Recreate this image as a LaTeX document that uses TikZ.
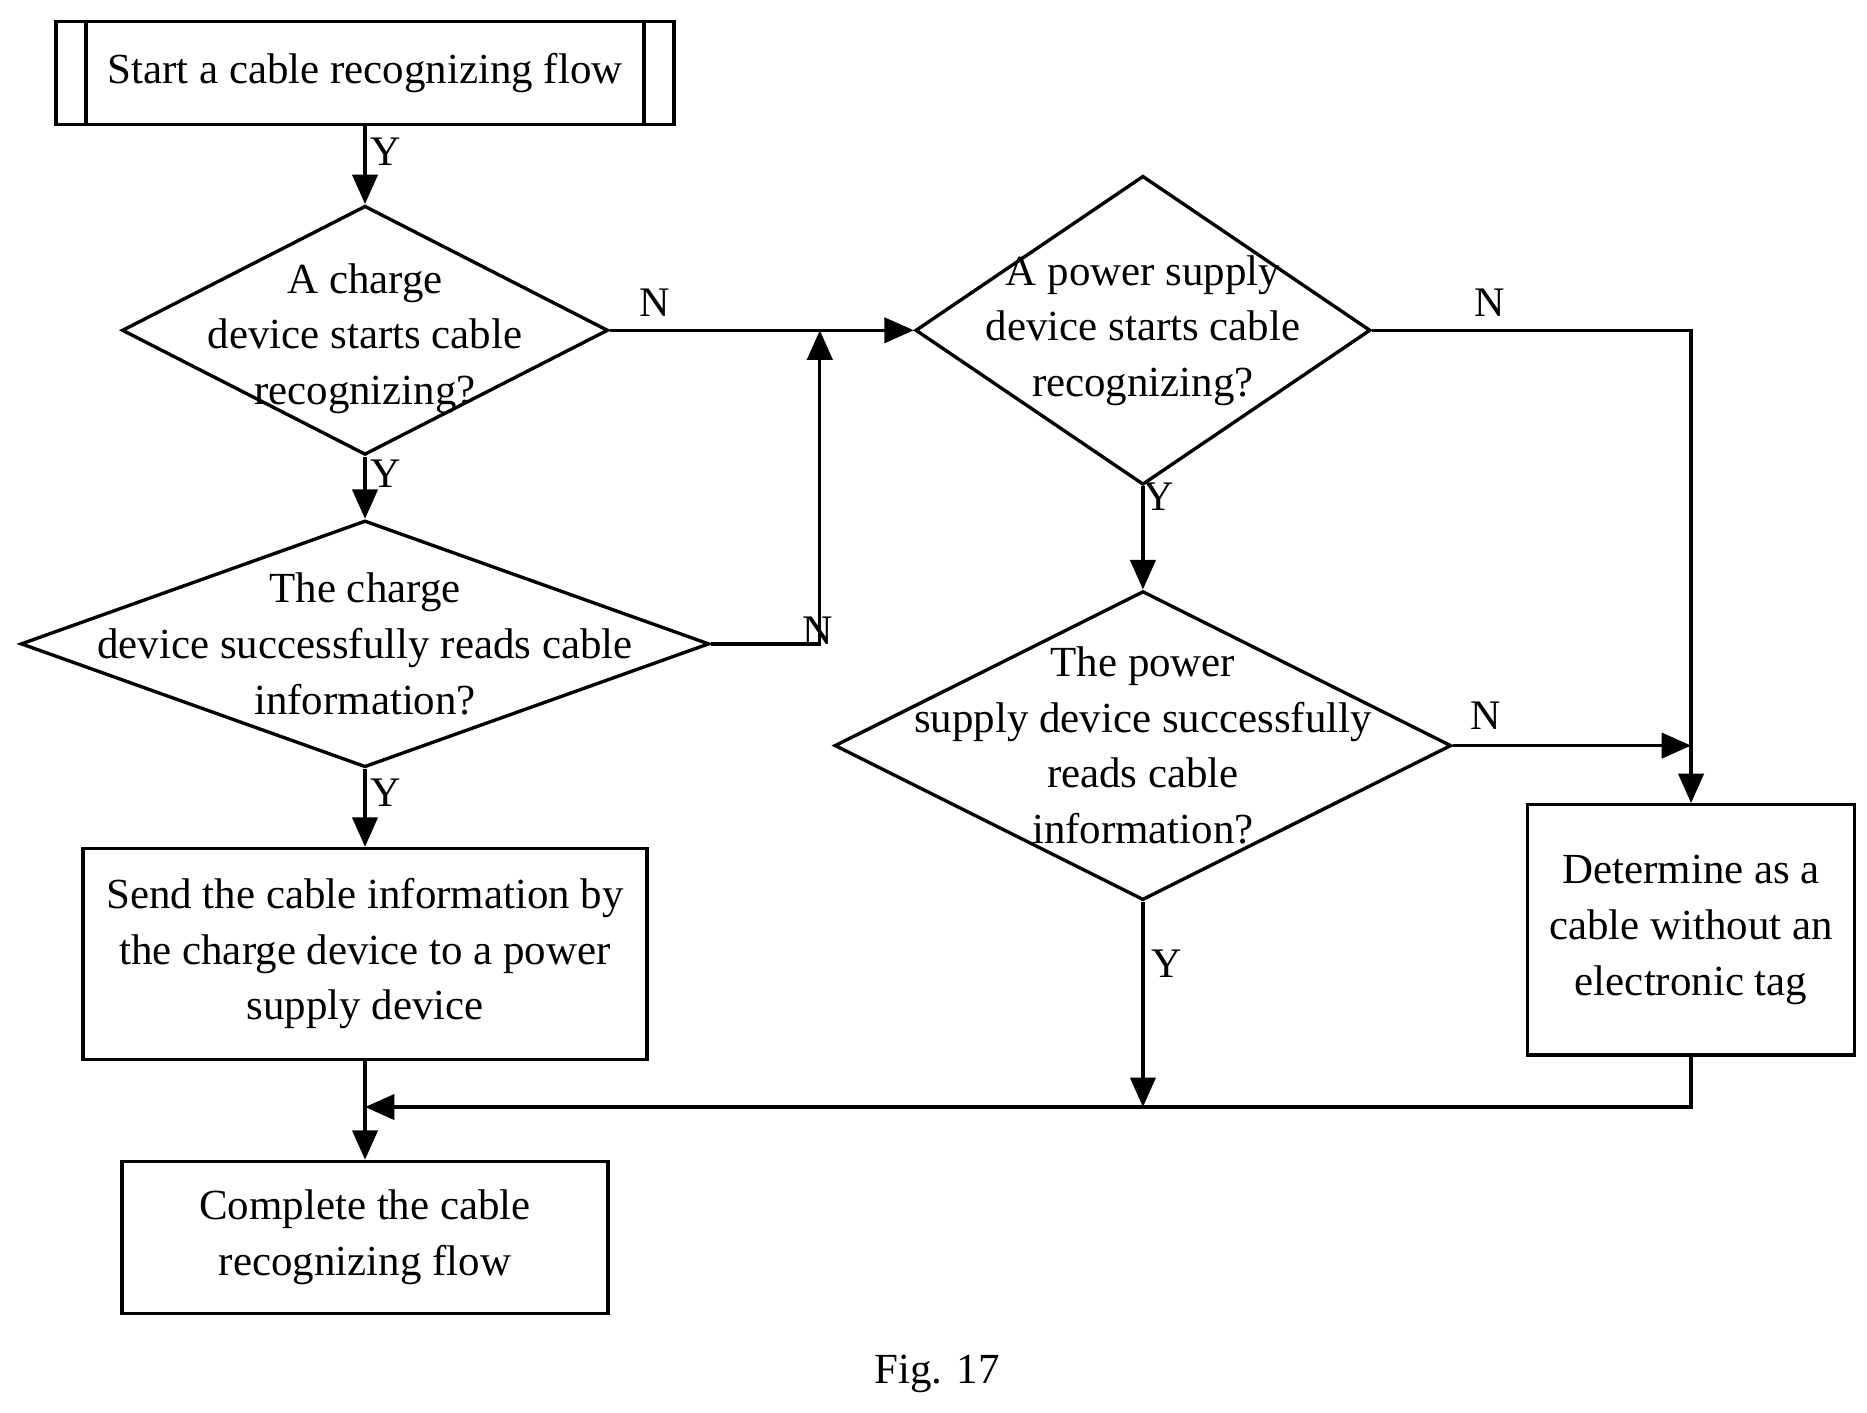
\documentclass[tikz,border=0pt]{standalone}
\usepackage{fontspec}
\setmainfont{Liberation Serif}
\usetikzlibrary{shapes.geometric,arrows.meta}

\tikzset{
  box/.style={draw,thick,align=center,inner sep=0pt},
  test/.style={draw,thick,diamond,align=center,inner sep=0pt,aspect=2},
  flow/.style={thick,-{Triangle[length=7pt,width=6pt]}},
  line/.style={thick},
  tag/.style={font=\fontsize{10}{12}\selectfont,inner sep=1pt}
}

\begin{document}
\begin{tikzpicture}[x=0.01cm,y=-0.01cm,font=\fontsize{10.2}{13.2}\selectfont]
  \useasboundingbox (0,0) rectangle (1560,1180);

  % boxes
  \node[box,minimum width=5.16cm,minimum height=0.86cm] (start) at (305,61) {Start a cable recognizing flow};
  \draw[thick] (72,18) -- (72,104) (538,18) -- (538,104);
  \node[box,minimum width=4.71cm,minimum height=1.76cm] (send) at (305,797) {Send the cable information by\\the charge device to a power\\supply device};
  \node[box,minimum width=4.06cm,minimum height=1.27cm] (done) at (305,1034) {Complete the cable\\recognizing flow};
  \node[box,minimum width=2.73cm,minimum height=2.09cm] (none) at (1413,777) {Determine as a\\cable without an\\electronic tag};

  % decisions
  \node[test,minimum width=4.06cm,minimum height=2.08cm] (chg) at (305,276) {};
  \node[align=center] at (305,283) {A charge\\device starts cable\\recognizing?};
  \node[test,minimum width=5.75cm,minimum height=2.06cm] (chgok) at (305,538) {};
  \node[align=center] at (305,538) {The charge\\device successfully reads cable\\information?};
  \node[test,minimum width=3.8cm,minimum height=2.58cm] (pwr) at (955,276) {};
  \node[align=center] at (955,276) {A power supply\\device starts cable\\recognizing?};
  \node[test,minimum width=5.15cm,minimum height=2.58cm] (pwrok) at (955,623) {};
  \node[align=center] at (955,623) {The power\\supply device successfully\\reads cable\\information?};

  \coordinate (j1) at (685,276);
  \coordinate (j2) at (685,538);
  \coordinate (r1) at (1413,276);
  \coordinate (r2) at (1413,623);
  \coordinate (m1) at (955,925);
  \coordinate (b1) at (1413,925);
  \coordinate (b2) at (305,925);

  % connectors
  \draw[flow] (start) -- (chg);
  \draw[flow] (chg) -- (chgok);
  \draw[flow] (chgok) -- (send);
  \draw[flow] (send) -- (done);
  \draw[flow] (chg.east) -- (pwr.west);
  \draw[flow] (chgok.east) -- (j2) -- (j1);
  \draw[flow] (pwr.east) -- (r1) -- (none.north);
  \draw[flow] (pwr) -- (pwrok);
  \draw[flow] (pwrok.east) -- (r2);
  \draw[flow] (pwrok.south) -- (m1);
  \draw[flow] (none.south) -- (b1) -- (b2);

  % labels
  \node[tag] at (322,127) {Y};
  \node[tag] at (322,396) {Y};
  \node[tag] at (322,662) {Y};
  \node[tag] at (547,253) {N};
  \node[tag] at (683,527) {N};
  \node[tag] at (1245,253) {N};
  \node[tag] at (968,415) {Y};
  \node[tag] at (1241,598) {N};
  \node[tag] at (975,805) {Y};

  \node (fig) at (783,1148) {Fig. 17};
\end{tikzpicture}
\end{document}
